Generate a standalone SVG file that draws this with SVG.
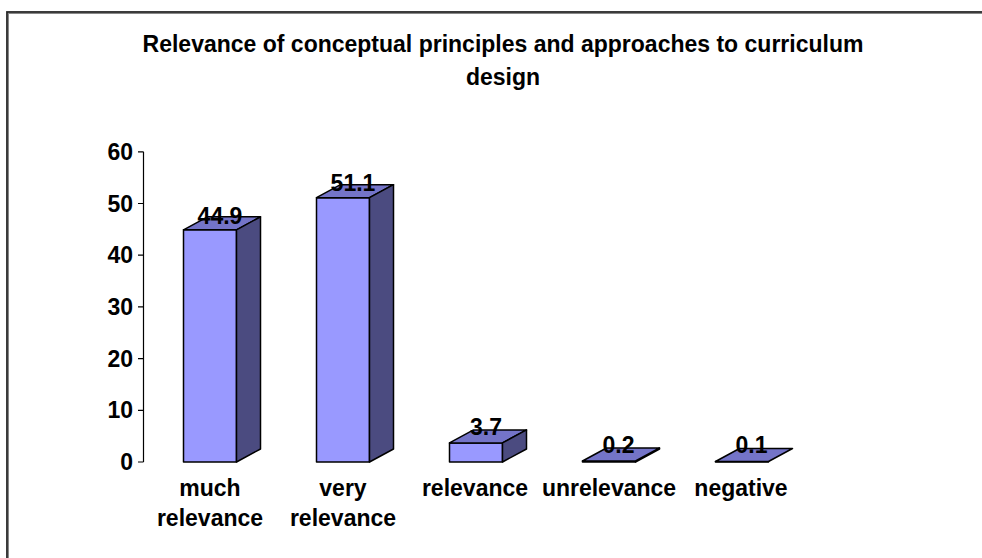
<svg xmlns="http://www.w3.org/2000/svg" width="982" height="558" viewBox="0 0 982 558">
<style>
text{font-family:"Liberation Sans",Arial,sans-serif;font-weight:bold;font-size:23px;fill:#000}
.mid{text-anchor:middle}
.end{text-anchor:end}
.front{fill:#9999FF;stroke:#000;stroke-width:1.5;stroke-linejoin:round}
.top{fill:#7474C8;stroke:#000;stroke-width:1.5;stroke-linejoin:round}
.side{fill:#4B4B80;stroke:#000;stroke-width:1.5;stroke-linejoin:round}
.axis{stroke:#000;stroke-width:1.2;fill:none}
</style>
<rect x="0" y="0" width="982" height="558" fill="#fff"/>
<g id="frame">
<path d="M7.5 570 V12.5 H990" fill="none" stroke="#888" stroke-width="3"/>
<path d="M7 570 V12 H990" fill="none" stroke="#222" stroke-width="1.5"/>
</g>
<g id="title">
<text class="mid" x="503" y="52">Relevance of conceptual principles and approaches to curriculum</text>
<text class="mid" x="503" y="85">design</text>
</g>
<g id="y-axis">
<path class="axis" d="M143.5 151.8 V462 M138 462 H143.5 M138 410.3 H143.5 M138 358.6 H143.5 M138 306.9 H143.5 M138 255.2 H143.5 M138 203.5 H143.5 M138 151.8 H143.5"/>
<text class="end" x="133" y="470">0</text>
<text class="end" x="133" y="418.3">10</text>
<text class="end" x="133" y="366.6">20</text>
<text class="end" x="133" y="314.9">30</text>
<text class="end" x="133" y="263.2">40</text>
<text class="end" x="133" y="211.5">50</text>
<text class="end" x="133" y="159.8">60</text>
</g>
<g id="bar-much-relevance">
<rect class="front" x="183.5" y="229.8" width="53" height="232.2"/>
<polygon class="top" points="183.5,229.8 207.5,216.8 260.5,216.8 236.5,229.8"/>
<polygon class="side" points="236.5,229.8 260.5,216.8 260.5,449 236.5,462"/>
<text class="mid" x="220" y="224">44.9</text>
<text class="mid" x="210" y="496">much</text>
<text class="mid" x="210" y="526">relevance</text>
</g>
<g id="bar-very-relevance">
<rect class="front" x="316.5" y="197.7" width="53" height="264.3"/>
<polygon class="top" points="316.5,197.7 340.5,184.7 393.5,184.7 369.5,197.7"/>
<polygon class="side" points="369.5,197.7 393.5,184.7 393.5,449 369.5,462"/>
<text class="mid" x="353" y="191">51.1</text>
<text class="mid" x="343" y="496">very</text>
<text class="mid" x="343" y="526">relevance</text>
</g>
<g id="bar-relevance">
<rect class="front" x="449.5" y="442.9" width="53" height="19.1"/>
<polygon class="top" points="449.5,442.9 473.5,429.9 526.5,429.9 502.5,442.9"/>
<polygon class="side" points="502.5,442.9 526.5,429.9 526.5,449 502.5,462"/>
<text class="mid" x="486" y="435">3.7</text>
<text class="mid" x="475" y="496">relevance</text>
</g>
<g id="bar-unrelevance">
<rect class="front" x="582.5" y="461" width="53" height="1"/>
<polygon class="side" points="635.5,461 659.5,448 659.5,449 635.5,462"/>
<polygon class="top" points="582.5,461 606.5,448 659.5,448 635.5,461"/>
<text class="mid" x="618.5" y="453">0.2</text>
<text class="mid" x="609" y="496">unrelevance</text>
</g>
<g id="bar-negative">
<rect class="front" x="715.5" y="461.5" width="53" height="0.5"/>
<polygon class="top" points="715.5,461.5 739.5,448.5 792.5,448.5 768.5,461.5"/>
<text class="mid" x="751.5" y="453">0.1</text>
<text class="mid" x="741" y="496">negative</text>
</g>
<g id="connectors"/>
</svg>
